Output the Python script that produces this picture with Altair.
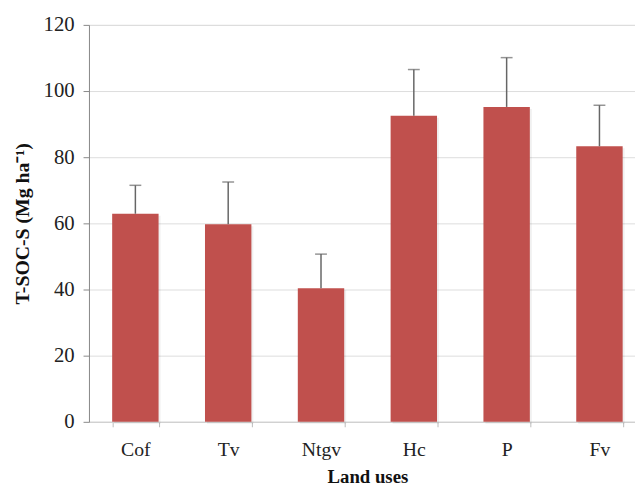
import altair as alt
import pandas as pd

categories = ["Cof", "Tv", "Ntgv", "Hc", "P", "Fv"]
values = [62.9, 59.7, 40.4, 92.5, 95.2, 83.3]
errors = [8.6, 12.8, 10.3, 14.0, 14.9, 12.4]

df = pd.DataFrame({"cat": categories, "val": values, "err": errors})
df["upper"] = df["val"] + df["err"]

FONT = "Liberation Serif"
xscale = alt.Scale(paddingInner=0.5, paddingOuter=0.25, range=[0, 564])
x = alt.X("cat:N", sort=categories, scale=xscale,
          axis=alt.Axis(title="Land uses", labelAngle=0, labelFontSize=20,
                        labelFont=FONT, labelColor="#222", labelPadding=13,
                        titleFont=FONT, titleFontSize=19, titleFontWeight="bold",
                        titleColor="#111", titlePadding=8,
                        tickBand="extent", tickSize=5, tickColor="#bbb",
                        domainColor="#ccc", grid=False))
y = alt.Y("val:Q", scale=alt.Scale(domain=[0, 120]),
          axis=alt.Axis(title="T-SOC-S (Mg ha⁻¹)", values=[0, 20, 40, 60, 80, 100, 120],
                        labelFontSize=21, labelFont=FONT, labelColor="#222",
                        labelPadding=9, titleFont=FONT, titleFontSize=20,
                        titleFontWeight="bold", titleColor="#111", titlePadding=11,
                        tickSize=6, tickColor="#888", domainColor="#888",
                        gridColor="#dcdcdc", gridWidth=1))

base = alt.Chart(df)
shadow = base.mark_bar(color="#000", opacity=0.06, xOffset=2, yOffset=2).encode(x=x, y=y)
bars = base.mark_bar(color="#C0504D").encode(x=x, y=y)
rule = base.mark_rule(color="#666", strokeWidth=1.5).encode(
    x=alt.X("cat:N", sort=categories), y="val:Q", y2="upper:Q")
cap = base.mark_tick(color="#666", thickness=1.5, size=12, orient="horizontal").encode(
    x=alt.X("cat:N", sort=categories), y="upper:Q")

chart = alt.layer(shadow, bars, rule, cap).properties(
    width=553, height=402,
    autosize=alt.AutoSizeParams(type="none"),
    padding={"left": 82, "top": 14, "right": 0, "bottom": 70},
).configure_view(stroke=None).configure(background="white")

chart.save("out.html", embed_options={"renderer": "svg", "actions": False})
